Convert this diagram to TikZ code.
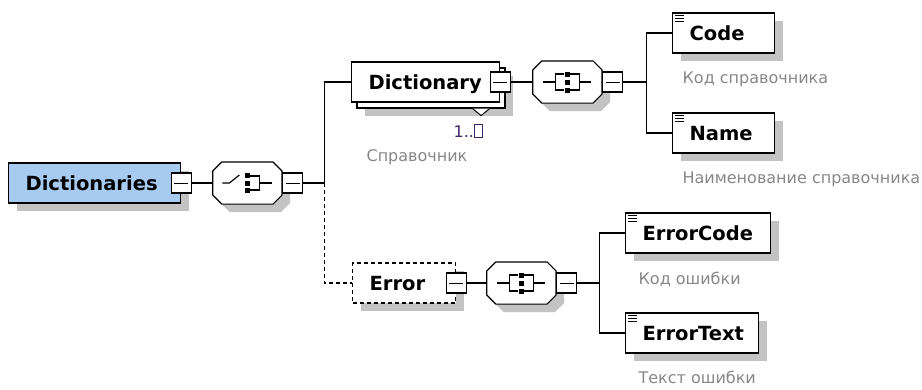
\documentclass[tikz,border=0pt]{standalone}
\usepackage{fontspec}
\setmainfont{DejaVu Sans}
\usepackage{tikz}
\usetikzlibrary{positioning, calc, shadows}

\definecolor{rootblue}{RGB}{166,202,240}
\definecolor{shadowgray}{RGB}{195,195,195}
\definecolor{descgray}{RGB}{135,135,135}
\definecolor{occurblue}{RGB}{60,35,110}

% octagon round a compositor node, with its shadow
\newcommand{\octline}[2]{%
  \path[#2] ([xshift=9pt]#1.north west) -- ([xshift=-9pt]#1.north east)
    -- ([yshift=-9pt]#1.north east) -- ([yshift=9pt]#1.south east)
    -- ([xshift=-9pt]#1.south east) -- ([xshift=9pt]#1.south west)
    -- ([yshift=9pt]#1.south west) -- ([yshift=-9pt]#1.north west) -- cycle;}
\newcommand{\octagon}[1]{%
  \begin{scope}[transform canvas={shift={(8pt,-8pt)}}]\octline{#1}{fill=shadowgray}\end{scope}
  \octline{#1}{draw, fill=white}}
% compositor symbols, drawn at the centre of a compositor node
\newcommand{\choiceicon}[1]{%
  \begin{scope}[shift={(#1)}]
    \draw (-25,0) -- (-18,0) -- (-8,-8);
    \draw (3,-7) -- (12,-7) -- (12,7) -- (3,7);
    \draw (12,0) -- (25,0);
    \foreach \dy in {-7.5,0,7.5} \fill (-2.5,\dy-2.5) rectangle ++(5,5);
  \end{scope}}
\newcommand{\allicon}[1]{%
  \begin{scope}[shift={(#1)}]
    \draw (-24,0) -- (-12,0);
    \draw (-3,-8) -- (-12,-8) -- (-12,8) -- (-3,8);
    \draw (3,-8) -- (12,-8) -- (12,8) -- (3,8);
    \draw (12,0) -- (24,0);
    \foreach \dy in {-8,0,8} \fill (-2.5,\dy-2.5) rectangle ++(5,5);
  \end{scope}}
\newcommand{\nochar}{{\setlength{\fboxsep}{0pt}\setlength{\fboxrule}{0.9pt}\fbox{\rule{0pt}{12pt}\hspace{7pt}}}}

\begin{document}
\begin{tikzpicture}[x=1pt, y=-1pt, line width=1.2pt,
    box/.style={draw, fill=white, minimum height=40pt, inner xsep=17pt, inner ysep=0pt,
                text width=#1, align=left, anchor=west, text height=14.2pt, text depth=0pt,
                font=\fontsize{19.5}{21}\selectfont\bfseries},
    elem/.style={box=#1, general shadow={fill=shadowgray, shadow xshift=8pt, shadow yshift=-8pt}},
    rootelem/.style={elem=#1, fill=rootblue},
    optelem/.style={elem=#1, dash pattern=on 4pt off 3pt},
    stack/.style={draw, fill=white, minimum width=148pt, minimum height=40pt,
                  general shadow={fill=shadowgray, shadow xshift=8pt, shadow yshift=-8pt}},
    compositor/.style={minimum width=68pt, minimum height=41pt, inner sep=0pt},
    toggle/.style={draw, fill=white, minimum size=20pt, inner sep=0pt,
                   path picture={\draw[line width=1pt]
                     ([xshift=3pt]path picture bounding box.west) --
                     ([xshift=-3pt]path picture bounding box.east);}},
    desc/.style={font=\fontsize{16}{18}\selectfont, text=descgray, anchor=base west, inner sep=0pt},
    occur/.style={font=\fontsize{16}{18}\selectfont, text=occurblue, anchor=base west, inner sep=0pt},
    optline/.style={dash pattern=on 4pt off 3pt}
]
\useasboundingbox (0,0) rectangle (922,389);

% root
\node[rootelem=138pt] (root) at (8,183) {Dictionaries};
\node[toggle] (rootsq) at (root.east) {};
\node[compositor, right=21pt of rootsq] (seq1) {};
\octagon{seq1}
\node[toggle, right=0pt of seq1] (seqsq1) {};
\choiceicon{seq1}
\coordinate (fork1) at ($(seqsq1.east)+(21,0)$);

% Dictionary (1..n)
\node[stack] (dictbk) at (431,88) {};
\draw[fill=white, line width=1pt] ($(dictbk.south east)+(-33,0)$) -- ++(8.5,7) -- ++(8.5,-7);
\node[box=114pt] (dict) at (351,82) {Dictionary};
\node[toggle] (dictsq) at (dict.east) {};
\node[compositor, right=22pt of dictsq] (seq2) {};
\octagon{seq2}
\node[toggle, right=0pt of seq2] (seqsq2) {};
\allicon{seq2}
\coordinate (fork2) at ($(seqsq2.east)+(23,0)$);
\node[occur] (dictocc) at (453,137) {1..\nochar};
\node[desc] (dictdesc) at (366,161) {Справочник};

\node[elem=68pt] (code) at (672,33) {Code};
\node[elem=68pt] (name) at (672,133) {Name};
\node[desc] (codedesc) at (682,83) {Код справочника};
\node[desc] (namedesc) at (682,183) {Наименование справочника};

% Error (optional)
\node[optelem=69pt] (err) at (352,283) {Error};
\node[toggle] (errsq) at (err.east) {};
\node[compositor, right=20pt of errsq] (seq3) {};
\octagon{seq3}
\node[toggle, right=0pt of seq3] (seqsq3) {};
\allicon{seq3}
\coordinate (fork3) at ($(seqsq3.east)+(22,0)$);

\node[elem=111pt] (ecode) at (625,233) {ErrorCode};
\node[elem=99pt] (etext) at (625,333) {ErrorText};
\node[desc] (ecodedesc) at (638,284) {Код ошибки};
\node[desc] (etextdesc) at (638,383) {Текст ошибки};

% text-content marks
\foreach \n in {code,name,ecode,etext}
  \foreach \dy in {3,5.8,8.6}
    \draw[line width=0.9pt] ([xshift=3pt,yshift=-\dy pt]\n.north west) -- ++(9,0);

% connectors
\draw (rootsq) -- (seq1);
\draw (seqsq1) -- (fork1);
\draw (fork1) |- (dict.west);
\draw[optline] (fork1) |- (err.west);
\draw (dictsq) -- (seq2);
\draw (seqsq2) -- (fork2);
\draw (fork2) |- (code.west);
\draw (fork2) |- (name.west);
\draw (errsq) -- (seq3);
\draw (seqsq3) -- (fork3);
\draw (fork3) |- (ecode.west);
\draw (fork3) |- (etext.west);
\end{tikzpicture}
\end{document}
